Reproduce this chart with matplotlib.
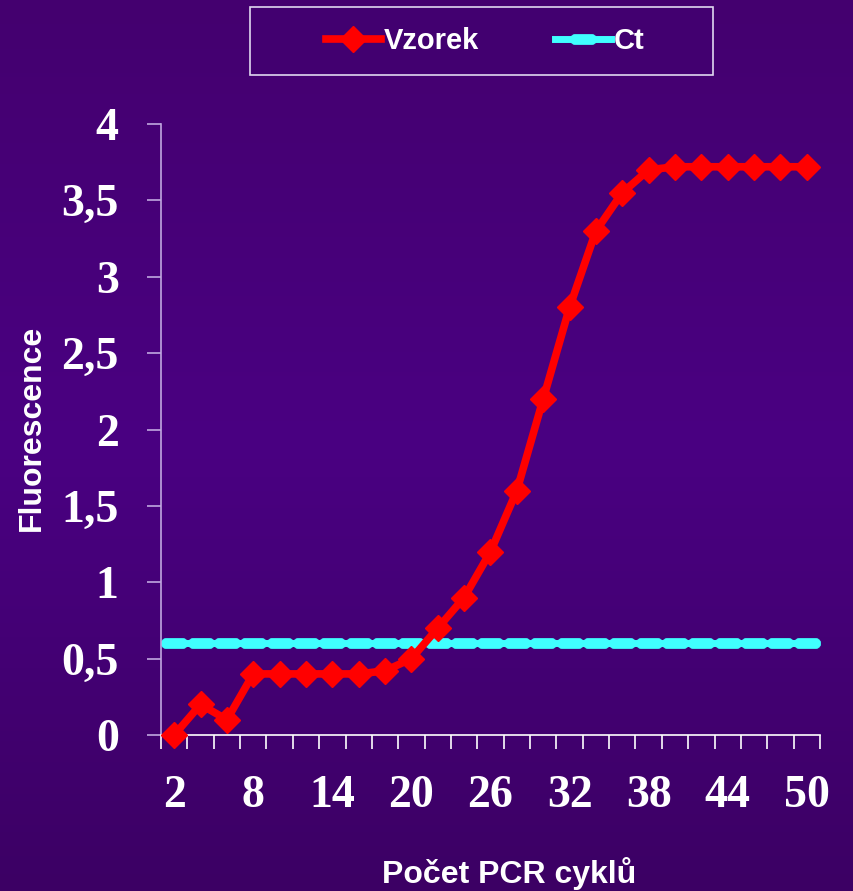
import numpy as np
import matplotlib
matplotlib.use("Agg")
import matplotlib.pyplot as plt
from matplotlib.colors import LinearSegmentedColormap
from matplotlib.patches import Rectangle
from matplotlib.path import Path

# data
cycles = [2, 4, 6, 8, 10, 12, 14, 16, 18, 20, 22, 24, 26, 28, 30,
          32, 34, 36, 38, 40, 42, 44, 46, 48, 50]
vzorek = [0, 0.2, 0.1, 0.4, 0.4, 0.4, 0.4, 0.4, 0.42, 0.5, 0.7, 0.9, 1.2,
          1.6, 2.2, 2.8, 3.3, 3.55, 3.7, 3.72, 3.72, 3.72, 3.72, 3.72, 3.72]
ct = [0.6] * len(cycles)
yticks = [0, 0.5, 1, 1.5, 2, 2.5, 3, 3.5, 4]
ytick_labels = ["0", "0,5", "1", "1,5", "2", "2,5", "3", "3,5", "4"]

W, H = 854, 891
fig = plt.figure(figsize=(W / 100, H / 100), dpi=100)

# background gradient
bg = fig.add_axes([0, 0, 1, 1], zorder=-10)
cmap = LinearSegmentedColormap.from_list(
    "bg", [(0.0, "#3c0064"), (0.5, "#4a0082"), (1.0, "#44006f")])
bg.imshow(np.linspace(0, 1, 256).reshape(-1, 1), aspect="auto", cmap=cmap,
          extent=[0, 1, 0, 1], origin="lower")
bg.axis("off")

# rounded dash marker (excel style) for Ct
a = np.linspace(-np.pi / 2, np.pi / 2, 12)
right = np.column_stack([0.8 + 0.5 * np.cos(a), 0.5 * np.sin(a)])
left = np.column_stack([-0.8 - 0.5 * np.cos(a), -0.5 * np.sin(a)])
verts = np.vstack([right, left, right[:1]])
dash = Path(verts, closed=True)

ax = fig.add_axes([161 / W, 1 - 735 / H, (820 - 161) / W, (735 - 124) / H])
ax.patch.set_alpha(0)

x = np.arange(len(cycles))
ax.plot(x, ct, color="#40ffff", lw=5, marker=dash, ms=19, mew=0.5,
        zorder=2, label="Ct")
ax.plot(x, vzorek, color="#ff0000", lw=5.5, marker="D", ms=13,
        solid_joinstyle="round", zorder=3, label="Vzorek", clip_on=False)

ax.set_xlim(-0.5, len(cycles) - 0.5)
ax.set_ylim(0, 4)

for s in ["top", "right"]:
    ax.spines[s].set_visible(False)
ax.spines["left"].set_color("#c0a8e0")
ax.spines["bottom"].set_color("#ffffff")
ax.spines["left"].set_linewidth(1.2)
ax.spines["bottom"].set_linewidth(1.2)

serif = {"family": "Liberation Serif", "weight": "bold", "size": 33}
ax.set_yticks(yticks)
ax.set_yticklabels(ytick_labels, fontdict=serif, color="white")
ax.tick_params(axis="y", length=10, width=1.2, color="#c0a8e0", pad=20.5)

ax.set_xticks(np.arange(-0.5, len(cycles), 1))
ax.set_xticklabels([])
ax.tick_params(axis="x", which="major", length=10, width=1.2,
               color="#ffffff", direction="out")
lab_idx = x[::3]
ax.set_xticks(lab_idx, minor=True)
ax.set_xticklabels([str(cycles[i]) for i in lab_idx], minor=True,
                   fontdict=serif, color="white")
ax.tick_params(axis="x", which="minor", length=0, pad=29)

fig.text(32 / W, 1 - 428 / H, "Fluorescence", rotation=90, fontsize=23,
         fontweight="bold", family="Liberation Sans", color="white",
         ha="center", va="center")
fig.text(509 / W, 1 - 874 / H, "Počet PCR cyklů", fontsize=23,
         fontweight="bold", family="Liberation Sans", color="white",
         ha="center", va="center")

# legend box
fig.patches.append(Rectangle((250 / W, 1 - 75 / H), 463 / W, 68 / H,
                             transform=fig.transFigure, facecolor="#420070",
                             edgecolor="#e0d8f0", lw=1.2, zorder=-5))
handles, labels = ax.get_legend_handles_labels()
leg = fig.legend(handles[::-1], labels[::-1], loc="center",
                 bbox_to_anchor=(485 / W, 1 - 41 / H), ncol=2,
                 prop={"family": "Liberation Sans", "weight": "bold",
                       "size": 21},
                 frameon=False, handlelength=1.9,
                 handletextpad=0.1, columnspacing=2.6)
for t in leg.get_texts():
    t.set_color("white")

fig.savefig("out.png", dpi=100)
